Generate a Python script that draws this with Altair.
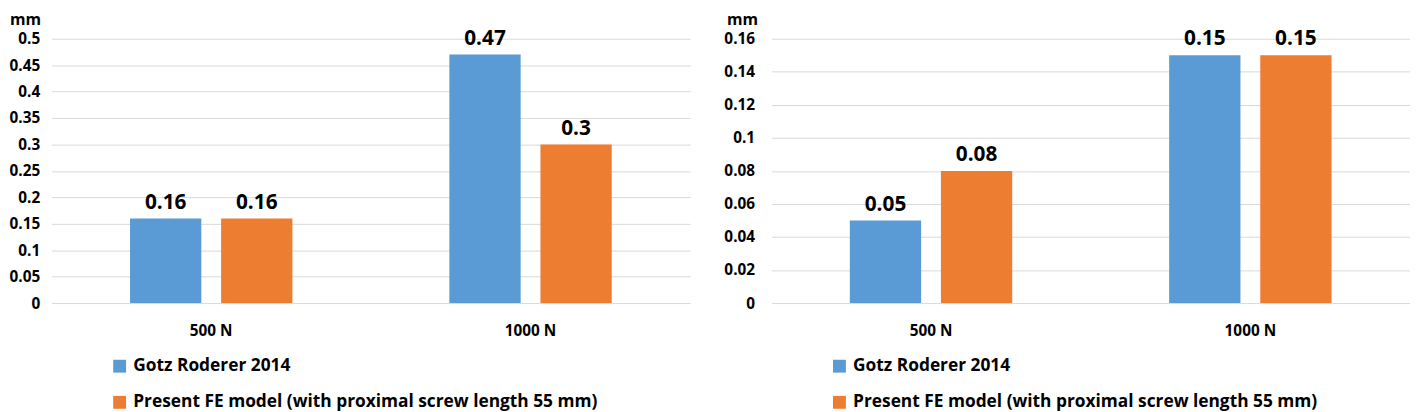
import altair as alt
import pandas as pd

categories = ["500 N", "1000 N"]
series = ["Gotz Roderer 2014", "Present FE model (with proximal screw length 55 mm)"]
left_gotz = [0.16, 0.47]
left_present = [0.16, 0.3]
right_gotz = [0.05, 0.15]
right_present = [0.08, 0.15]
left_ticks = [0, 0.05, 0.1, 0.15, 0.2, 0.25, 0.3, 0.35, 0.4, 0.45, 0.5]
right_ticks = [0, 0.02, 0.04, 0.06, 0.08, 0.1, 0.12, 0.14, 0.16]
colors = ["#5B9BD5", "#ED7D31"]

FONT = "Open Sans"


def frame(gotz, present):
    rows = []
    for i, c in enumerate(categories):
        rows.append({"cat": c, "series": series[0], "value": gotz[i]})
        rows.append({"cat": c, "series": series[1], "value": present[i]})
    return pd.DataFrame(rows)


def panel(gotz, present, ticks, label_pad, title_x):
    df = frame(gotz, present)
    x = alt.X("cat:N", sort=categories, title=None,
              scale=alt.Scale(paddingInner=0.4915, paddingOuter=0.2457),
              axis=alt.Axis(labelAngle=0, domain=False, ticks=False, grid=False,
                            labelFont=FONT, labelFontWeight="bold", labelFontSize=15.5,
                            labelColor="#000000", labelPadding=21))
    xo = alt.XOffset("series:N", sort=series,
                     scale=alt.Scale(paddingInner=0.2174, paddingOuter=0))
    y = alt.Y("value:Q",
              scale=alt.Scale(domain=[ticks[0], ticks[-1]], nice=False),
              axis=alt.Axis(values=ticks, format="~g", domain=False, ticks=False,
                            grid=True, gridColor="#D9D9D9", gridWidth=1,
                            labelFont=FONT, labelFontWeight="bold", labelFontSize=15.5,
                            labelColor="#000000", labelPadding=label_pad,
                            title="mm", titleAngle=0, titleAlign="right",
                            titleBaseline="top", titleX=title_x, titleY=-27,
                            titleFont=FONT, titleFontWeight="bold", titleFontSize=16,
                            titleColor="#000000"))
    color = alt.Color("series:N", sort=series,
                      scale=alt.Scale(domain=series, range=colors),
                      legend=alt.Legend(title=None, orient="none", legendX=60, legendY=322,
                                        direction="vertical", symbolType="square",
                                        symbolSize=169, symbolStrokeWidth=0,
                                        labelFont=FONT, labelFontWeight="bold",
                                        labelFontSize=17.5, labelColor="#000000",
                                        labelLimit=700, labelOffset=5, rowPadding=17.5,
                                        padding=0))
    base = alt.Chart(df).encode(x=x, xOffset=xo, y=y)
    bars = base.mark_bar().encode(color=color)
    text = base.mark_text(baseline="alphabetic", dy=-10, font=FONT, fontWeight="bold",
                          fontSize=21, color="#000000").encode(
        text=alt.Text("value:Q", format="~g"))
    return alt.layer(bars, text).properties(width=645, height=267)


left = panel(left_gotz, left_present, left_ticks, 12, -11)
right = panel(right_gotz, right_present, right_ticks, 17, -14)

chart = alt.hconcat(left, right, spacing=33).resolve_scale(
    color="independent", y="independent").resolve_legend(color="independent").properties(
    padding={"left": 0, "top": 2, "right": 0, "bottom": 0}
).configure_view(stroke=None)

chart.save("out.html", embed_options={"renderer": "svg", "actions": False})
